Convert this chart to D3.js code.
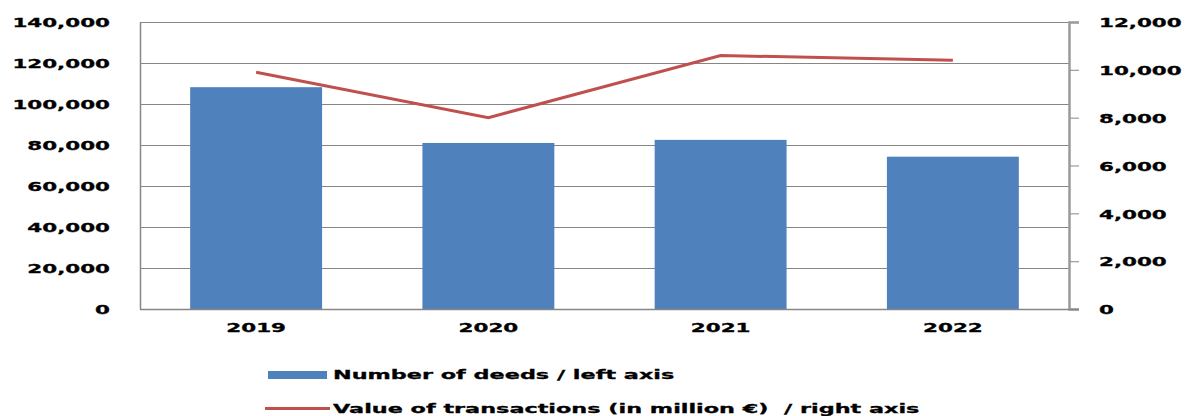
<!DOCTYPE html>
<html>
<head>
<meta charset="utf-8">
<script src="https://cdn.jsdelivr.net/npm/d3@7"></script>
<style>
  html, body { margin: 0; padding: 0; background: #fff; }
  svg { display: block; }
  text { font-family: "DejaVu Sans", Verdana, sans-serif; font-weight: bold; fill: #000;
         stroke: #000; stroke-width: 0.3px; white-space: pre; }
</style>
</head>
<body>
<svg id="chart" width="1185" height="416"></svg>
<script>
// Property deeds and transaction value, 2019-2022
const years = ["2019", "2020", "2021", "2022"];
const deeds = [108200, 81000, 82500, 74300];          // left axis
const transactionValue = [9900, 8000, 10600, 10400];  // million €, right axis
const leftTicks = [0, 20000, 40000, 60000, 80000, 100000, 120000, 140000];
const rightTicks = [0, 2000, 4000, 6000, 8000, 10000, 12000];
const legendLabels = ["Number of deeds / left axis", "Value of transactions (in million €)  / right axis"];

const W = 1185, H = 416;
const plot = { left: 140, right: 1069, top: 22, bottom: 309 };
const stretch = 1.65;      // wide lettering used throughout
const barColor = "#4F81BD", lineColor = "#C0504D", gridColor = "#868686";

const svg = d3.select("#chart");
const fmt = d3.format(",");

const p = 0.432;
const x = d3.scaleBand().domain(years).range([plot.left, plot.right])
  .paddingInner(p).paddingOuter(p / 2);
const yL = d3.scaleLinear().domain([0, 140000]).range([plot.bottom, plot.top]);
const yR = d3.scaleLinear().domain([0, 12000]).range([plot.bottom, plot.top]);

// horizontal gridlines
svg.append("g").selectAll("line").data(leftTicks.filter(d => d > 0)).join("line")
  .attr("x1", plot.left).attr("x2", plot.right)
  .attr("y1", d => Math.round(yL(d)) + 0.5).attr("y2", d => Math.round(yL(d)) + 0.5)
  .attr("stroke", gridColor).attr("stroke-width", 1);

// bars
svg.append("g").selectAll("rect").data(years).join("rect")
  .attr("x", d => x(d)).attr("width", x.bandwidth())
  .attr("y", (d, i) => yL(deeds[i]))
  .attr("height", (d, i) => yL(0) - yL(deeds[i]))
  .attr("fill", barColor);

// left axis
const gL = svg.append("g").attr("transform", `translate(${plot.left},0)`)
  .call(d3.axisLeft(yL).tickValues(leftTicks).tickFormat(fmt).tickSize(0).tickPadding(0));
gL.select(".domain").attr("stroke", gridColor).attr("stroke-width", 1.5);
gL.selectAll("text")
  .attr("font-size", 13).attr("font-family", null)
  .attr("x", -30 / stretch).attr("dy", "0.36em")
  .attr("transform", `scale(${stretch},1)`);

// right axis
const gR = svg.append("g").attr("transform", `translate(${plot.right},0)`)
  .call(d3.axisRight(yR).tickValues(rightTicks).tickFormat(fmt).tickSize(10).tickPadding(0));
gR.select(".domain").attr("stroke", "#9a9a9a").attr("stroke-width", 2.5);
gR.selectAll(".tick line").attr("stroke", "#9a9a9a").attr("stroke-width", 1.2);
gR.selectAll("text")
  .attr("font-size", 13).attr("font-family", null)
  .attr("x", 30 / stretch).attr("dy", "0.36em")
  .attr("transform", `scale(${stretch},1)`);

// category axis
const gB = svg.append("g").attr("transform", `translate(0,${plot.bottom})`)
  .call(d3.axisBottom(x).tickSize(0).tickPadding(0));
gB.select(".domain").remove();
gB.append("line").attr("x1", plot.left).attr("x2", plot.right + 10)
  .attr("y1", 0.5).attr("y2", 0.5).attr("stroke", gridColor).attr("stroke-width", 1.5);
gB.selectAll(".tick text")
  .attr("font-size", 13).attr("font-family", null)
  .attr("y", 23).attr("dy", 0)
  .attr("transform", `scale(${stretch},1)`)
  .attr("x", 0);
gB.selectAll(".tick").each(function (d) {
  const cx = x(d) + x.bandwidth() / 2;
  d3.select(this).attr("transform", `translate(${cx},0)`);
});

// value line
const line = d3.line()
  .x((d, i) => x(years[i]) + x.bandwidth() / 2)
  .y(d => yR(d));
svg.append("path").datum(transactionValue)
  .attr("d", line).attr("fill", "none")
  .attr("stroke", lineColor).attr("stroke-width", 3);

// legend
const lg = svg.append("g");
lg.append("rect").attr("x", 268).attr("y", 371).attr("width", 59).attr("height", 8).attr("fill", barColor);
lg.append("line").attr("x1", 265).attr("x2", 330).attr("y1", 408.5).attr("y2", 408.5)
  .attr("stroke", lineColor).attr("stroke-width", 3);
const legendStretch = 1.72;
lg.selectAll("text").data(legendLabels).join("text")
  .attr("font-size", 13)
  .attr("xml:space", "preserve")
  .attr("transform", (d, i) => `translate(333,${i === 0 ? 379 : 413}) scale(${legendStretch},1)`)
  .text(d => d);
</script>
</body>
</html>
